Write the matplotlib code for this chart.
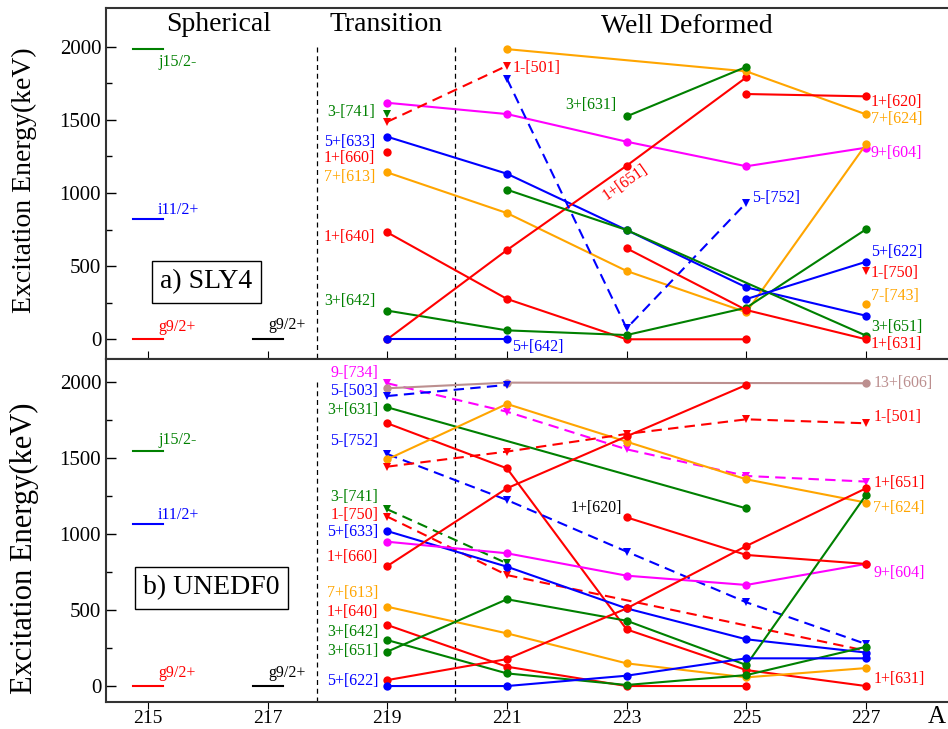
import numpy as np
import matplotlib
matplotlib.use('Agg')
import matplotlib.pyplot as plt
from matplotlib.ticker import MultipleLocator, FixedLocator

plt.rcParams['font.family'] = ['Liberation Serif', 'DejaVu Serif']

nan = np.nan
mass = [219, 221, 223, 225, 227]

# spherical levels (A=215) and the 217 ground state
sph_names = ['j15/2-', 'i11/2+', 'g9/2+']
sly4_sph = [1983, 820, 0]
unedf_sph = [1544, 1064, 0]
gs_217 = 0

# a) SLY4
sly4_names = ['9+[604]', '3-[741]', '1-[501]', '5+[633]', '1+[660]', '7+[613]', '1+[640]',
              '3+[642]', '1+[651]', '5+[642]', '7+[624]', '5-[752]', '3+[651]', '3+[631]',
              '1+[631]', '1+[620]', '5+[622]', '1-[750]', '7-[743]']
sly4_energy = [
    [1617, 1540, 1351, 1183, 1310],
    [1540, nan, nan, nan, nan],
    [1487, 1870, nan, nan, nan],
    [1385, 1132, 747, 355, 161],
    [1280, nan, nan, nan, nan],
    [1141, 863, 467, 185, 1333],
    [731, 276, 0, 0, nan],
    [196, 61, 29, 216, 752],
    [0, 610, 1187, 1791, nan],
    [0, 0, nan, nan, nan],
    [nan, 1984, nan, 1832, 1538],
    [nan, 1781, 75, 934, nan],
    [nan, 1023, 747, nan, 25],
    [nan, nan, 1524, 1863, nan],
    [nan, nan, 622, 200, 0],
    [nan, nan, nan, 1677, 1661],
    [nan, nan, nan, 275, 530],
    [nan, nan, nan, nan, 469],
    [nan, nan, nan, nan, 243],
]
sly4_colors = ['magenta', 'green', 'red', 'blue', 'red', 'orange', 'red', 'green', 'red', 'blue',
               'orange', 'blue', 'green', 'green', 'red', 'red', 'blue', 'red', 'orange']
sly4_dashed = [0, 1, 1, 0, 0, 0, 0, 0, 0, 0, 0, 1, 0, 0, 0, 0, 0, 1, 0]

# b) UNEDF0
unedf_names = ['9-[734]', '13+[606]', '5-[503]', '3+[631]', '1+[631]', '5-[752]', '7+[624]',
               '1-[501]', '3-[741]', '1-[750]', '5+[633]', '9+[604]', '1+[660]', '7+[613]',
               '1+[640]', '3+[642]', '3+[651]', '1+[651]', '5+[622]', '1+[620]']
unedf_energy = [
    [1989, 1802, 1555, 1380, 1343],
    [1956, 1993, nan, nan, 1989],
    [1905, 1978, nan, nan, nan],
    [1831, nan, nan, 1167, nan],
    [1726, 1430, 372, 105, 0],
    [1524, 1222, 883, 550, 276],
    [1489, 1853, 1605, 1358, 1205],
    [1441, 1540, 1656, 1752, 1726],
    [1161, 806, nan, nan, nan],
    [1113, 729, nan, nan, 232],
    [1018, 784, 510, 307, 220],
    [948, 872, 725, 664, 802],
    [788, 1299, 1640, 1978, nan],
    [521, 346, 149, 57, 118],
    [401, 127, 0, 0, nan],
    [302, 83, 7, 72, 258],
    [226, 570, 429, 138, 1255],
    [39, 177, 510, 920, 1299],
    [0, 0, 68, 182, 182],
    [nan, nan, 1108, 861, 802],
]
unedf_colors = ['magenta', 'rosybrown', 'blue', 'green', 'red', 'blue', 'orange', 'red', 'green',
                'red', 'blue', 'magenta', 'red', 'orange', 'red', 'green', 'green', 'red', 'blue',
                'red']
unedf_dashed = [1, 0, 1, 0, 0, 1, 0, 1, 1, 1, 0, 0, 0, 0, 0, 0, 0, 0, 0, 0]


def draw_levels(ax, energy, colors, dashed):
    x = np.array(mass)
    for vals, c, d in zip(energy, colors, dashed):
        y = np.array(vals, dtype=float)
        m = ~np.isnan(y)
        ax.plot(x[m], y[m], color=c, lw=1.5,
                ls=(0, (5, 3)) if d else '-',
                marker='v' if d else 'o', ms=6, mew=0)


def frame(ax, ylim):
    ax.set_xlim(214.3, 228.37)
    ax.set_ylim(*ylim)
    ax.set_xticks([215, 217, 219, 221, 223, 225, 227])
    ax.yaxis.set_major_locator(MultipleLocator(500))
    ax.yaxis.set_minor_locator(FixedLocator([250, 750, 1250, 1750]))
    ax.tick_params(axis='y', which='major', direction='in', length=7, width=1, labelsize=15)
    ax.tick_params(axis='y', which='minor', direction='in', length=4, width=1)
    ax.spines['right'].set_visible(False)
    for s in ['left', 'top', 'bottom']:
        ax.spines[s].set_linewidth(1.5)
        ax.spines[s].set_color('#333333')
    for xv in [217.83, 220.13]:
        ax.plot([xv, xv], [2000, ylim[0] - 100], color='black', lw=0.9, ls=(0, (4, 3)))


fig = plt.figure(figsize=(9.48, 7.29), dpi=100)
ax1 = fig.add_axes([0.1118, 0.5075, 0.8882, 0.4815])
ax2 = fig.add_axes([0.1118, 0.037, 0.8882, 0.4705])

frame(ax1, (-135, 2265))
frame(ax2, (-105, 2148))
ax1.tick_params(axis='x', direction='in', length=6, labelbottom=False)
ax2.tick_params(axis='x', direction='out', length=5, pad=0.5, labelsize=14)

draw_levels(ax1, sly4_energy, sly4_colors, sly4_dashed)
draw_levels(ax2, unedf_energy, unedf_colors, unedf_dashed)

# spherical levels
sph_colors = ['green', 'blue', 'red']
for ax, vals, ly in [(ax1, sly4_sph, [1898, 882, 84]), (ax2, unedf_sph, [1616, 1123, 85])]:
    for v, c, n, y in zip(vals, sph_colors, sph_names, ly):
        ax.plot([214.75, 215.25], [v, v], color=c, lw=1.5)
        ax.text(215.17, y, n, color=c, fontsize=11.5, va='center', ha='left')
    ax.plot([216.75, 217.25], [gs_217, gs_217], color='black', lw=1.5)
ax1.text(217.02, 98, 'g9/2+', color='black', fontsize=11.5, va='center', ha='left')
ax2.text(217.02, 87, 'g9/2+', color='black', fontsize=11.5, va='center', ha='left')

# headers
ax1.text(216.18, 2155, 'Spherical', fontsize=20, ha='center', va='center')
ax1.text(218.98, 2150, 'Transition', fontsize=20, ha='center', va='center')
ax1.text(224.0, 2137, 'Well Deformed', fontsize=20, ha='center', va='center')

box = dict(boxstyle='square,pad=0.3', fc='white', ec='black', lw=1)
ax1.text(215.98, 392, 'a) SLY4', fontsize=20, ha='center', va='center', bbox=box)
ax2.text(216.06, 644, 'b) UNEDF0', fontsize=20, ha='center', va='center', bbox=box)

fs = 11.5
# SLY4 labels
for n, c, y in [('3-[741]', 'green', 1556), ('5+[633]', 'blue', 1351), ('1+[660]', 'red', 1237),
                ('7+[613]', 'orange', 1111), ('1+[640]', 'red', 697), ('3+[642]', 'green', 264)]:
    ax1.text(218.8, y, n, color=c, fontsize=fs, ha='right', va='center')
for n, c, y in [('1+[620]', 'red', 1624), ('7+[624]', 'orange', 1506), ('9+[604]', 'magenta', 1271),
                ('5+[622]', 'blue', 599), ('1-[750]', 'red', 451), ('7-[743]', 'orange', 298),
                ('3+[651]', 'green', 82), ('1+[631]', 'red', -32)]:
    ax1.text(227.08, y, n, color=c, fontsize=fs, ha='left', va='center')
ax1.text(221.1, 1852, '1-[501]', color='red', fontsize=fs, ha='left', va='center')
ax1.text(222.83, 1601, '3+[631]', color='green', fontsize=fs, ha='right', va='center')
ax1.text(225.1, 966, '5-[752]', color='blue', fontsize=fs, ha='left', va='center')
ax1.text(221.08, -51, '5+[642]', color='blue', fontsize=fs, ha='left', va='center')
ax1.text(222.98, 1075, '1+[651]', color='red', fontsize=fs, ha='center', va='center', rotation=35)

# UNEDF0 labels
for n, c, y in [('9-[734]', 'magenta', 2058), ('5-[503]', 'blue', 1941), ('3+[631]', 'green', 1810),
                ('5-[752]', 'blue', 1607), ('3-[741]', 'green', 1240), ('1-[750]', 'red', 1124),
                ('5+[633]', 'blue', 1014), ('1+[660]', 'red', 850), ('7+[613]', 'orange', 609),
                ('1+[640]', 'red', 484), ('3+[642]', 'green', 356), ('3+[651]', 'green', 231),
                ('5+[622]', 'blue', 35)]:
    ax2.text(218.85, y, n, color=c, fontsize=fs, ha='right', va='center')
for n, c, y in [('13+[606]', 'rosybrown', 1993), ('1-[501]', 'red', 1765), ('1+[651]', 'red', 1336),
                ('7+[624]', 'orange', 1167), ('9+[604]', 'magenta', 745), ('1+[631]', 'red', 44)]:
    ax2.text(227.12, y, n, color=c, fontsize=fs, ha='left', va='center')
ax2.text(222.92, 1167, '1+[620]', color='black', fontsize=fs, ha='right', va='center')

fig.text(0.026, 0.753, 'Excitation Energy(keV)', rotation=90, fontsize=20, ha='center', va='center')
fig.text(0.026, 0.2476, 'Excitation Energy(keV)', rotation=90, fontsize=22, ha='center', va='center')
fig.text(0.9885, 0.002, 'A', fontsize=18, ha='center', va='bottom')

fig.savefig('out.png', dpi=100)
